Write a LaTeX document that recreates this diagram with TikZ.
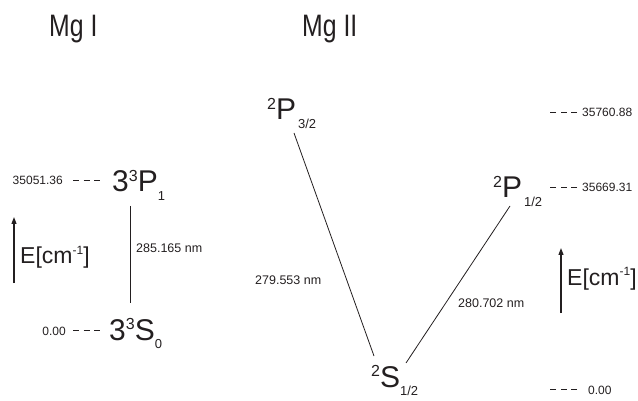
\documentclass[tikz,border=0pt]{standalone}
\usepackage{fontspec}
\setmainfont{Liberation Sans}
\newfontfamily\titlefont{Liberation Sans}[FakeStretch=0.8]
\usetikzlibrary{arrows.meta}
\definecolor{ink}{HTML}{231F20}
\newcommand\lvlterm[4]{#1\raisebox{0.36em}{\fontsize{16}{16}\selectfont #2}#3\raisebox{-0.28em}{\fontsize{13}{13}\selectfont #4}}
\newcommand\ecm{E[cm\raisebox{0.42em}{\fontsize{12}{12}\selectfont -1}]}
\tikzset{title/.style={anchor=base west,inner sep=0pt,font=\titlefont\fontsize{31}{33}\selectfont,text=ink},
  level/.style={anchor=base west,inner sep=0pt,font=\fontsize{30}{32}\selectfont,text=ink},
  val/.style={inner sep=0pt,font=\fontsize{12}{14}\selectfont,text=ink},
  wave/.style={anchor=base west,inner sep=0pt,font=\fontsize{12.5}{14}\selectfont,text=ink},
  elab/.style={anchor=base west,inner sep=0pt,font=\fontsize{23}{25}\selectfont,text=ink},
  tick/.style={draw=ink,line width=0.8pt,dash pattern=on 6pt off 4.5pt},
  trans/.style={draw=ink,line width=0.8pt},
  earr/.style={draw=ink,line width=1.2pt,-{Triangle[length=7pt,width=5pt]}}}
\begin{document}
\begin{tikzpicture}[x=1pt,y=-1pt]
\useasboundingbox (0,0) rectangle (638,401);
% titles
\node[title] (mg1) at (49,37) {Mg I};
\node[title] (mg2) at (302,37) {Mg II};
% Mg I
\node[level] (p1) at (112,192) {\lvlterm{3}{3}{P}{1}};
\node[level] (s0) at (109,340) {\lvlterm{3}{3}{S}{0}};
\node[val,anchor=base east] (v1) at (63,185) {35051.36};
\node[val,anchor=base east] (v0) at (66,335) {0.00};
\draw[tick] ([xshift=10pt]v1.east) -- ++(27,0);
\draw[tick] ([xshift=7pt]v0.east) -- ++(27,0);
\coordinate (p1b) at (130,206);
\coordinate (s0t) at (130,303);
\draw[trans] (p1b) -- (s0t);
\node[wave] (w1) at (136,253) {285.165 nm};
\node[elab] (e1) at (20,264) {\ecm};
\coordinate (a1s) at (14,283);
\coordinate (a1e) at (14,217);
\draw[earr] (a1s) -- (a1e);
% Mg II
\node[level] (p32) at (267,120) {\lvlterm{}{2}{P}{\kern2pt 3/2}};
\node[level] (p12) at (493,198) {\lvlterm{}{2}{P}{\kern2pt 1/2}};
\node[level] (s12) at (371,387) {\lvlterm{}{2}{S}{1/2}};
\coordinate (p32b) at (294,133);
\coordinate (s12a) at (374,356);
\coordinate (s12b) at (406,363);
\coordinate (p12b) at (510,206);
\draw[trans] (p32b) -- (s12a);
\draw[trans] (s12b) -- (p12b);
\node[wave] (w2) at (255,284) {279.553 nm};
\node[wave] (w3) at (458,307) {280.702 nm};
\node[val,anchor=base west] (v3) at (582,117) {35760.88};
\node[val,anchor=base west] (v2) at (582,192) {35669.31};
\node[val,anchor=base west] (v4) at (588,394) {0.00};
\draw[tick] ([xshift=-5pt]v3.west) -- ++(-27,0);
\draw[tick] ([xshift=-5pt]v2.west) -- ++(-27,0);
\draw[tick] ([xshift=-11pt]v4.west) -- ++(-27,0);
\node[elab] (e2) at (567,285) {\ecm};
\coordinate (a2s) at (561,313);
\coordinate (a2e) at (561,248);
\draw[earr] (a2s) -- (a2e);
\end{tikzpicture}
\end{document}
